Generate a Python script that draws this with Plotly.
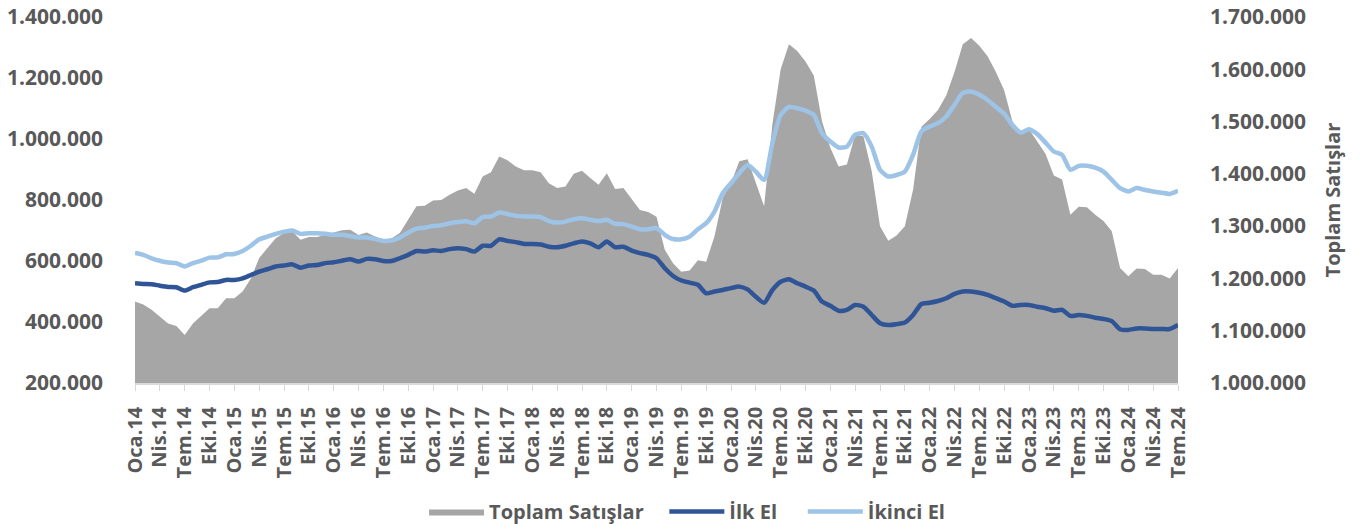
import plotly.graph_objects as go

# monthly series, Oca.14 .. Tem.24 (thousands)
months_tr = ["Oca", "Şub", "Mar", "Nis", "May", "Haz", "Tem", "Ağu", "Eyl", "Eki", "Kas", "Ara"]
years = list(range(14, 25))

toplam = [1156, 1150, 1140, 1127, 1114, 1109, 1092, 1114, 1128, 1143, 1143, 1162,
          1162, 1175, 1200, 1239, 1258, 1277, 1287, 1290, 1274, 1279, 1279, 1283,
          1288, 1292, 1293, 1283, 1288, 1280, 1274, 1277, 1287, 1312, 1338, 1339,
          1349, 1350, 1360, 1368, 1373, 1362, 1395, 1403, 1433, 1426, 1414, 1407,
          1407, 1403, 1382, 1373, 1376, 1400, 1406, 1392, 1379, 1401, 1371, 1373,
          1352, 1331, 1327, 1318, 1255, 1229, 1213, 1215, 1235, 1232, 1280, 1354,
          1382, 1424, 1428, 1382, 1338, 1495, 1600, 1648, 1635, 1615, 1588, 1500,
          1450, 1414, 1418, 1475, 1472, 1405, 1300, 1272, 1282, 1300, 1370, 1490,
          1505, 1522, 1550, 1595, 1648, 1660, 1645, 1625, 1595, 1560, 1500, 1478,
          1485, 1462, 1438, 1397, 1389, 1322, 1337, 1336, 1322, 1310, 1290, 1220,
          1204, 1219, 1218, 1207, 1207, 1200, 1220]

ilk_el = [527, 525, 524, 519, 515, 514, 503, 514, 522, 530, 531, 538,
          538, 543, 554, 565, 573, 582, 585, 589, 578, 585, 587, 593,
          596, 601, 606, 598, 607, 606, 600, 600, 609, 620, 633, 631,
          635, 633, 639, 642, 639, 631, 650, 650, 671, 666, 662, 656,
          656, 654, 647, 645, 650, 658, 664, 658, 645, 664, 645, 647,
          634, 626, 620, 609, 576, 551, 536, 529, 522, 494, 500, 505,
          511, 516, 507, 483, 463, 505, 532, 540, 527, 516, 503, 467,
          453, 437, 440, 456, 450, 423, 396, 390, 393, 398, 423, 459,
          463, 469, 478, 492, 500, 500, 496, 489, 478, 467, 453, 456,
          456, 450, 445, 437, 440, 420, 423, 420, 414, 410, 403, 376,
          374, 379, 379, 377, 377, 377, 390]

ikinci_el = [626, 620, 609, 601, 595, 593, 582, 593, 601, 611, 612, 622,
             623, 633, 650, 671, 680, 689, 696, 700, 689, 691, 691, 689,
             686, 686, 682, 677, 677, 672, 666, 667, 677, 693, 706, 709,
             715, 717, 724, 728, 730, 724, 744, 746, 759, 754, 748, 746,
             746, 744, 731, 726, 729, 737, 740, 735, 731, 735, 722, 721,
             713, 704, 704, 708, 686, 672, 671, 680, 704, 724, 762, 822,
             855, 888, 915, 893, 866, 986, 1079, 1105, 1101, 1093, 1079, 1019,
             992, 972, 975, 1014, 1019, 975, 899, 877, 882, 893, 948, 1025,
             1041, 1052, 1074, 1112, 1151, 1156, 1145, 1128, 1105, 1083, 1046, 1021,
             1032, 1016, 988, 959, 948, 899, 912, 912, 906, 893, 866, 839,
             828, 839, 833, 828, 824, 820, 830]

labels = [f"{m}.{y}" for y in years for m in months_tr][:len(toplam)]
tick_idx = list(range(0, len(labels), 3))
tick_txt = [labels[i] for i in tick_idx]

grey_txt = "#595959"
font_main = "Open Sans"
bold20 = dict(family=font_main, size=20, color=grey_txt, weight="bold")
bold21 = dict(family=font_main, size=21, color=grey_txt, weight="bold")
nb = "\u00a0"  # extra room between legend entries

fig = go.Figure()
fig.add_trace(go.Scatter(
    x=labels, y=[v * 1000 for v in toplam], name="Toplam Satışlar" + nb * 3,
    mode="lines", fill="tozeroy", fillcolor="#a6a6a6",
    line=dict(color="#a6a6a6", width=0), yaxis="y"))
fig.add_trace(go.Scatter(
    x=labels, y=[v * 1000 for v in ilk_el], name="İlk El" + nb * 4,
    mode="lines", line=dict(color="#2f5597", width=4.5, shape="spline", smoothing=0.6),
    yaxis="y2"))
fig.add_trace(go.Scatter(
    x=labels, y=[v * 1000 for v in ikinci_el], name="İkinci El",
    mode="lines", line=dict(color="#9dc3e6", width=4.5, shape="spline", smoothing=0.6),
    yaxis="y2"))

fig.update_layout(
    width=1364, height=524,
    margin=dict(l=135, r=186, t=17, b=141, autoexpand=False),
    paper_bgcolor="white", plot_bgcolor="white",
    separators=",.",
    font=bold20,
    xaxis=dict(
        type="category", range=[0, len(labels) - 1], automargin=False,
        tickmode="array", tickvals=[labels[i] for i in tick_idx], ticktext=tick_txt,
        tickangle=-90, ticks="outside", ticklen=6, tickcolor="#d9d9d9",
        showline=True, linecolor="#d9d9d9", linewidth=1.5,
        showgrid=False, ticklabelstandoff=8,
        tickfont=bold20,
    ),
    yaxis=dict(
        side="right", range=[1000000, 1700000], dtick=100000, tickformat=",d",
        automargin=False, ticklabeloverflow="allow",
        showgrid=False, zeroline=False, showline=False, ticklabelstandoff=31,
        title=dict(text="Toplam Satışlar", standoff=20, font=bold20),
        tickfont=bold21,
    ),
    yaxis2=dict(
        side="left", overlaying="y", range=[200000, 1400000], dtick=200000, tickformat=",d",
        automargin=False, ticklabeloverflow="allow",
        showgrid=False, zeroline=False, showline=False, ticklabelstandoff=31,
        tickfont=bold21,
    ),
    legend=dict(
        orientation="h", xref="container", yref="container",
        x=0.5037, y=0.024, xanchor="center", yanchor="middle",
        itemwidth=55, traceorder="normal",
        font=bold20,
    ),
    showlegend=True,
)

# drop the default 8px body margin so the figure sits at the page corner
fig.write_html("out.html", config={"displayModeBar": False},
               post_script="document.body.style.margin='0';")
